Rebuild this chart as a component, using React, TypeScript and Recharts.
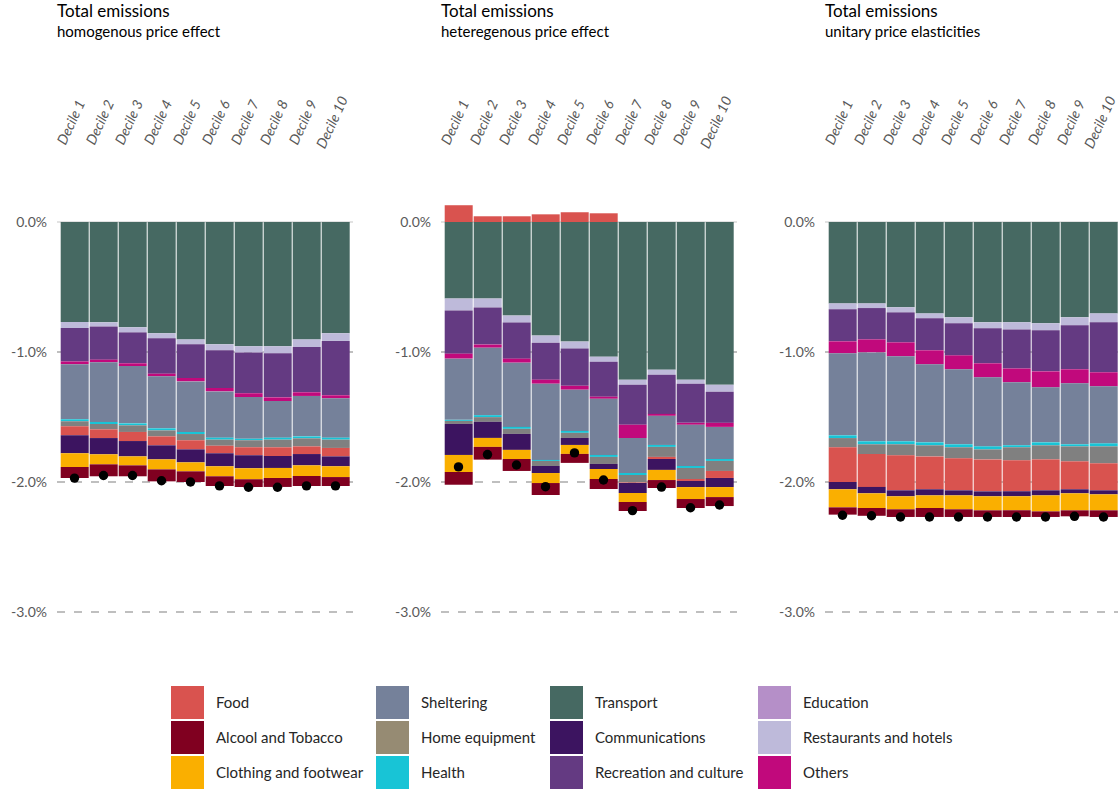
import React from 'react';
import { ComposedChart, Bar, Line, XAxis, YAxis, CartesianGrid } from 'recharts';

const deciles = [
  'Decile 1', 'Decile 2', 'Decile 3', 'Decile 4', 'Decile 5',
  'Decile 6', 'Decile 7', 'Decile 8', 'Decile 9', 'Decile 10',
];

const yTicks = [0, -1, -2, -3];

// homogenous price effect (% change in emissions, per consumption item)
const homTransport = [-0.769, -0.772, -0.81, -0.856, -0.903, -0.941, -0.956, -0.956, -0.903, -0.856];
const homRestaurants = [-0.046, -0.031, -0.039, -0.039, -0.038, -0.046, -0.047, -0.054, -0.059, -0.059];
const homRecreation = [-0.259, -0.256, -0.238, -0.272, -0.259, -0.29, -0.315, -0.339, -0.348, -0.418];
const homOthers = [-0.021, -0.02, -0.021, -0.02, -0.026, -0.026, -0.028, -0.028, -0.028, -0.023];
const homSheltering = [-0.423, -0.459, -0.441, -0.4, -0.389, -0.356, -0.321, -0.282, -0.311, -0.303];
const homHealth = [-0.015, -0.016, -0.015, -0.016, -0.016, -0.015, -0.012, -0.015, -0.015, -0.015];
const homHomeEquipment = [-0.039, -0.041, -0.051, -0.046, -0.048, -0.047, -0.054, -0.059, -0.062, -0.064];
const homFood = [-0.069, -0.067, -0.07, -0.069, -0.07, -0.058, -0.062, -0.067, -0.059, -0.065];
const homCommunications = [-0.138, -0.125, -0.118, -0.108, -0.1, -0.1, -0.1, -0.092, -0.087, -0.076];
const homClothing = [-0.106, -0.077, -0.069, -0.077, -0.069, -0.077, -0.084, -0.077, -0.082, -0.083];
const homAlcool = [-0.084, -0.092, -0.084, -0.092, -0.082, -0.075, -0.059, -0.069, -0.077, -0.069];
const homEducation = [0, 0, 0, 0, 0, 0, 0, 0, 0, 0];
const homTotal = [-1.97, -1.95, -1.95, -1.99, -2.0, -2.03, -2.04, -2.04, -2.03, -2.03];

// heteregenous price effect
const hetTransport = [-0.589, -0.589, -0.72, -0.874, -0.92, -1.036, -1.213, -1.136, -1.213, -1.252];
const hetRestaurants = [-0.092, -0.069, -0.054, -0.054, -0.054, -0.039, -0.039, -0.039, -0.031, -0.054];
const hetRecreation = [-0.332, -0.285, -0.277, -0.285, -0.286, -0.269, -0.308, -0.301, -0.301, -0.239];
const hetOthers = [-0.038, -0.024, -0.031, -0.031, -0.03, -0.016, -0.101, -0.015, -0.015, -0.031];
const hetSheltering = [-0.471, -0.519, -0.494, -0.586, -0.317, -0.432, -0.27, -0.224, -0.317, -0.247];
const hetHealth = [-0.008, -0.015, -0.015, -0.008, -0.015, -0.015, -0.015, -0.015, -0.015, -0.015];
const hetHomeEquipment = [-0.023, -0.036, -0.039, -0.039, -0.039, -0.054, -0.057, -0.077, -0.085, -0.077];
const hetFood = [0.129, 0.044, 0.044, 0.059, 0.075, 0.067, -0.005, -0.016, -0.015, -0.054];
const hetCommunications = [-0.239, -0.124, -0.123, -0.054, -0.054, -0.039, -0.077, -0.084, -0.047, -0.07];
const hetClothing = [-0.131, -0.069, -0.07, -0.077, -0.069, -0.077, -0.069, -0.078, -0.092, -0.077];
const hetAlcool = [-0.098, -0.098, -0.092, -0.092, -0.069, -0.077, -0.07, -0.061, -0.069, -0.069];
const hetEducation = [0, 0, 0, 0, 0, 0, 0, 0, 0, 0];
const hetTotal = [-1.884, -1.789, -1.869, -2.036, -1.776, -1.985, -2.22, -2.039, -2.198, -2.177];

// unitary price elasticities
const uniTransport = [-0.626, -0.626, -0.656, -0.703, -0.733, -0.772, -0.772, -0.779, -0.733, -0.703];
const uniRestaurants = [-0.046, -0.036, -0.039, -0.038, -0.046, -0.046, -0.054, -0.054, -0.062, -0.069];
const uniRecreation = [-0.246, -0.241, -0.231, -0.246, -0.247, -0.269, -0.3, -0.316, -0.338, -0.384];
const uniOthers = [-0.092, -0.1, -0.107, -0.108, -0.107, -0.108, -0.107, -0.123, -0.108, -0.108];
const uniSheltering = [-0.631, -0.684, -0.654, -0.6, -0.577, -0.531, -0.485, -0.423, -0.469, -0.439];
const uniHealth = [-0.021, -0.023, -0.023, -0.023, -0.023, -0.023, -0.015, -0.023, -0.016, -0.023];
const uniHomeEquipment = [-0.071, -0.075, -0.085, -0.085, -0.085, -0.077, -0.1, -0.108, -0.115, -0.13];
const uniFood = [-0.267, -0.253, -0.269, -0.253, -0.246, -0.246, -0.239, -0.238, -0.215, -0.208];
const uniCommunications = [-0.056, -0.049, -0.046, -0.047, -0.039, -0.038, -0.038, -0.039, -0.031, -0.031];
const uniClothing = [-0.139, -0.113, -0.1, -0.097, -0.107, -0.108, -0.108, -0.123, -0.131, -0.123];
const uniAlcool = [-0.056, -0.06, -0.059, -0.069, -0.059, -0.051, -0.051, -0.043, -0.046, -0.051];
const uniEducation = [0, 0, 0, 0, 0, 0, 0, 0, 0, 0];
const uniTotal = [-2.256, -2.26, -2.269, -2.269, -2.269, -2.269, -2.269, -2.269, -2.264, -2.269];

// stacking order, from zero outwards
const categories = [
  { key: 'transport', label: 'Transport', color: '#466962' },
  { key: 'restaurants', label: 'Restaurants and hotels', color: '#BEBADA' },
  { key: 'recreation', label: 'Recreation and culture', color: '#643A82' },
  { key: 'others', label: 'Others', color: '#C1097C' },
  { key: 'sheltering', label: 'Sheltering', color: '#75819A' },
  { key: 'health', label: 'Health', color: '#18C4D6' },
  { key: 'homeEquipment', label: 'Home equipment', color: '#808080', legendColor: '#968B73' },
  { key: 'food', label: 'Food', color: '#D9534F' },
  { key: 'communications', label: 'Communications', color: '#3C1460' },
  { key: 'clothing', label: 'Clothing and footwear', color: '#FAAF00' },
  { key: 'alcool', label: 'Alcool and Tobacco', color: '#800020' },
  { key: 'education', label: 'Education', color: '#B58FC8' },
];

const legendColumns = [
  ['food', 'alcool', 'clothing'],
  ['sheltering', 'homeEquipment', 'health'],
  ['transport', 'communications', 'recreation'],
  ['education', 'restaurants', 'others'],
];
const legendX = [171, 376, 550, 758];

const buildRows = (series: Record<string, number[]>, total: number[]) =>
  deciles.map((decile, i) => {
    const row: Record<string, string | number> = { decile, total: total[i] };
    categories.forEach((c) => {
      row[c.key] = series[c.key][i];
    });
    return row;
  });

const panels = [
  {
    subtitle: 'homogenous price effect',
    left: 0,
    data: buildRows(
      {
        transport: homTransport, restaurants: homRestaurants, recreation: homRecreation,
        others: homOthers, sheltering: homSheltering, health: homHealth,
        homeEquipment: homHomeEquipment, food: homFood, communications: homCommunications,
        clothing: homClothing, alcool: homAlcool, education: homEducation,
      },
      homTotal,
    ),
  },
  {
    subtitle: 'heteregenous price effect',
    left: 384,
    data: buildRows(
      {
        transport: hetTransport, restaurants: hetRestaurants, recreation: hetRecreation,
        others: hetOthers, sheltering: hetSheltering, health: hetHealth,
        homeEquipment: hetHomeEquipment, food: hetFood, communications: hetCommunications,
        clothing: hetClothing, alcool: hetAlcool, education: hetEducation,
      },
      hetTotal,
    ),
  },
  {
    subtitle: 'unitary price elasticities',
    left: 768,
    data: buildRows(
      {
        transport: uniTransport, restaurants: uniRestaurants, recreation: uniRecreation,
        others: uniOthers, sheltering: uniSheltering, health: uniHealth,
        homeEquipment: uniHomeEquipment, food: uniFood, communications: uniCommunications,
        clothing: uniClothing, alcool: uniAlcool, education: uniEducation,
      },
      uniTotal,
    ),
  },
];

const FONT = 'Lato, "Open Sans", sans-serif';
const AXIS_W = 57;
const TOP_H = 196;

function DecileTick(props: any) {
  const { x, y, payload } = props;
  const cx = x - 4;
  const cy = y - 74;
  return (
    <text
      x={cx}
      y={cy}
      transform={`rotate(-65 ${cx} ${cy})`}
      textAnchor="middle"
      dominantBaseline="central"
      fontStyle="italic"
      fontSize={14}
      fill="#595959"
      fontFamily={FONT}
    >
      {payload.value}
    </text>
  );
}

function Panel({ data }: { data: Record<string, string | number>[] }) {
  return (
    <ComposedChart
      width={353}
      height={622}
      data={data}
      stackOffset="sign"
      margin={{ top: 0, right: 0, bottom: 10, left: 0 }}
      barCategoryGap={0.7}
    >
      <CartesianGrid horizontalValues={[0]} vertical={false} stroke="#d9d9d9" strokeWidth={1.5} />
      <CartesianGrid
        horizontalValues={[-1, -2, -3]}
        vertical={false}
        stroke="#bfbfbf"
        strokeWidth={2}
        strokeDasharray="8 9"
      />
      <XAxis
        dataKey="decile"
        orientation="top"
        height={TOP_H}
        interval={0}
        axisLine={false}
        tickLine={false}
        tickSize={0}
        tickMargin={0}
        padding={{ left: 3, right: 3 }}
        tick={<DecileTick />}
      />
      <YAxis
        type="number"
        domain={[-3, 0.2]}
        ticks={yTicks}
        allowDataOverflow
        width={AXIS_W}
        axisLine={false}
        tickLine={false}
        tickSize={0}
        tickMargin={10}
        tick={{ fill: '#595959', fontSize: 14, fontFamily: FONT }}
        tickFormatter={(v: number) => `${v.toFixed(1)}%`}
      />
      {categories.map((c) => (
        <Bar key={c.key} dataKey={c.key} stackId="a" fill={c.color} isAnimationActive={false} />
      ))}
      <Line
        dataKey="total"
        stroke="none"
        dot={{ r: 4.7, fill: '#000', stroke: 'none' }}
        activeDot={false}
        isAnimationActive={false}
      />
    </ComposedChart>
  );
}

export default function App() {
  return (
    <div
      style={{
        position: 'relative',
        width: 1118,
        height: 790,
        overflow: 'hidden',
        fontFamily: FONT,
        background: '#fff',
      }}
    >
      <style>{'body{margin:0;overflow:hidden}'}</style>
      {panels.map((p) => (
        <div key={p.subtitle} style={{ position: 'absolute', left: p.left, top: 0 }}>
          <div
            style={{
              position: 'absolute',
              left: AXIS_W,
              top: 1,
              fontSize: 17,
              lineHeight: '20px',
              color: '#000',
              whiteSpace: 'nowrap',
              zIndex: 1,
            }}
          >
            Total emissions
          </div>
          <div
            style={{
              position: 'absolute',
              left: AXIS_W,
              top: 21,
              fontSize: 15,
              lineHeight: '20px',
              color: '#000',
              whiteSpace: 'nowrap',
              zIndex: 1,
            }}
          >
            {p.subtitle}
          </div>
          <Panel data={p.data} />
        </div>
      ))}
      {legendColumns.map((col, ci) =>
        col.map((key, ri) => {
          const c = categories.find((k) => k.key === key)!;
          return (
            <div
              key={key}
              style={{
                position: 'absolute',
                left: legendX[ci],
                top: 686 + ri * 35,
                height: 33,
                display: 'flex',
                alignItems: 'center',
                whiteSpace: 'nowrap',
              }}
            >
              <div style={{ width: 33, height: 33, background: c.legendColor || c.color }} />
              <span style={{ marginLeft: 12, fontSize: 15, color: '#262626', marginTop: -2 }}>
                {c.label}
              </span>
            </div>
          );
        }),
      )}
    </div>
  );
}
